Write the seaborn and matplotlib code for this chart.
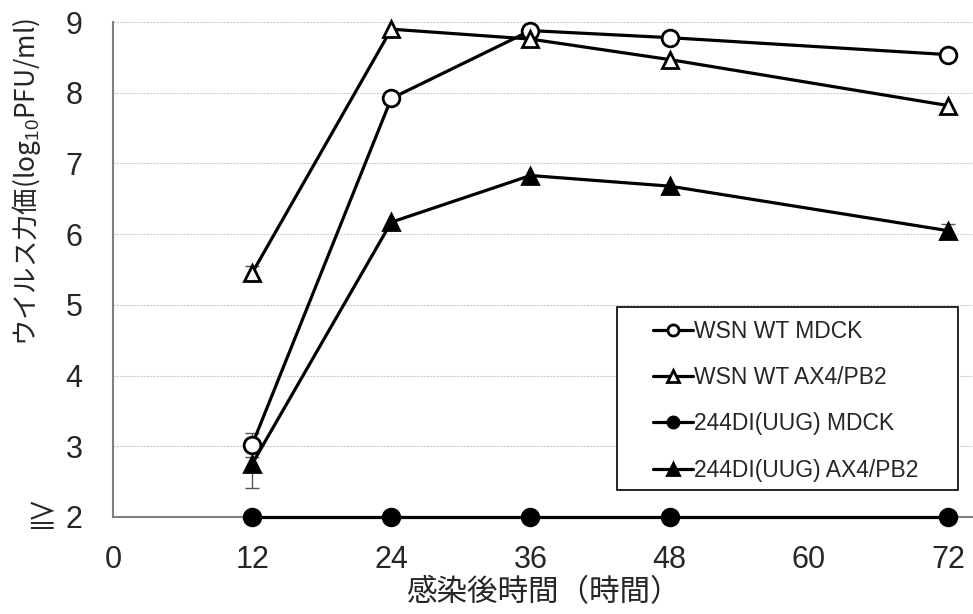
import matplotlib
matplotlib.use("Agg")
import matplotlib.pyplot as plt
from matplotlib.patches import Rectangle
import seaborn as sns
import pandas as pd
import numpy as np

hours = [12, 24, 36, 48, 72]
wsn_mdck = [3.02, 7.92, 8.88, 8.78, 8.54]
wsn_ax4 = [5.45, 8.90, 8.76, 8.47, 7.82]
di_mdck = [2.0, 2.0, 2.0, 2.0, 2.0]
di_ax4 = [2.75, 6.17, 6.83, 6.68, 6.05]
err_wsn_mdck = [0.17, 0.0, 0.0, 0.0, 0.0]
err_wsn_ax4 = [0.10, 0.0, 0.0, 0.0, 0.0]
err_di_mdck = [0.0, 0.0, 0.0, 0.0, 0.0]
err_di_ax4 = [0.34, 0.0, 0.0, 0.0, 0.10]
names = ["WSN WT MDCK", "WSN WT AX4/PB2", "244DI(UUG) MDCK", "244DI(UUG) AX4/PB2"]
x_ticks = [0, 12, 24, 36, 48, 60, 72]
y_ticks = [2, 3, 4, 5, 6, 7, 8, 9]
y_labels = ["≧ 2", "3", "4", "5", "6", "7", "8", "9"]

sns.set_theme(style="white")
plt.rcParams['font.family'] = ['Liberation Sans', 'Noto Sans CJK JP', 'DejaVu Sans']
plt.rcParams['mathtext.fontset'] = 'custom'
plt.rcParams['mathtext.rm'] = 'Liberation Sans'
plt.rcParams['mathtext.it'] = 'Liberation Sans'
plt.rcParams['mathtext.default'] = 'rm'

fig = plt.figure(figsize=(9.73, 6.14), dpi=100)
ax = fig.add_axes([0.1161, 0.158, 0.8839, 0.806])

series = [
    (names[0], wsn_mdck, err_wsn_mdck, "o", "white", 12),
    (names[1], wsn_ax4, err_wsn_ax4, "^", "white", 12),
    (names[2], di_mdck, err_di_mdck, "o", "black", 12),
    (names[3], di_ax4, err_di_ax4, "^", "black", 12),
]
for name, vals, errs, mk, fc, ms in series:
    df = pd.DataFrame({"h": hours, "v": vals})
    e = np.array(errs)
    mask = e > 0
    ax.errorbar(np.array(hours)[mask], np.array(vals)[mask], yerr=e[mask],
                fmt="none", ecolor="#555555", elinewidth=1, capsize=5, capthick=1, zorder=2)
    sns.lineplot(data=df, x="h", y="v", ax=ax, color="black", linewidth=2.3,
                 marker=mk, markersize=ms, markerfacecolor=fc, markeredgecolor="black",
                 markeredgewidth=2, label=name, zorder=3, clip_on=False)

ax.set_xlim(0, 74.16)
ax.set_ylim(2, 9)
ax.set_xticks(x_ticks)
ax.set_yticks(y_ticks)
ax.set_yticklabels(y_labels)
ax.tick_params(axis="x", labelsize=22, length=0, pad=20)
ax.tick_params(axis="y", labelsize=22, length=0, pad=22)
ax.yaxis.grid(True, color="#cccccc", linewidth=0.8, linestyle=(0, (2, 1)))
ax.xaxis.grid(False)
for s in ["top", "right"]:
    ax.spines[s].set_visible(False)
for s in ["left", "bottom"]:
    ax.spines[s].set_color("#808080")
    ax.spines[s].set_linewidth(1.5)

ax.set_xlabel("感染後時間（時間）", fontsize=22, labelpad=2,
              family=['Noto Sans CJK JP', 'DejaVu Sans'])
ax.set_ylabel("ウイルス力価(log$_{10}$PFU/ml)", fontsize=19,
              family=['Noto Sans CJK JP', 'DejaVu Sans'])
ax.yaxis.set_label_coords(-0.0814, 0.677)

box = Rectangle((0.586, 0.055), 0.3966, 0.369, transform=ax.transAxes,
                facecolor="white", edgecolor="black", linewidth=1.2, zorder=4)
ax.add_patch(box)
leg = ax.legend(loc="upper left", bbox_to_anchor=(0.628, 0.399), fontsize=16.5,
                frameon=False, handlelength=1.75, handletextpad=0.05,
                labelspacing=1.02, borderpad=0, borderaxespad=0)
leg.set_zorder(5)
for h in leg.legend_handles:
    h.set_markersize(8)
    h.set_linewidth(2.3)

fig.savefig("out.png", dpi=100)
